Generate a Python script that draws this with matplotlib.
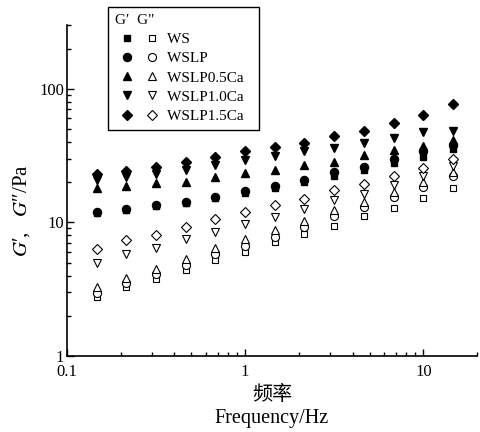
import matplotlib
matplotlib.use('Agg')
import matplotlib.pyplot as plt
from matplotlib.ticker import LogLocator, FuncFormatter, NullFormatter
from matplotlib.legend_handler import HandlerTuple

plt.rcParams['font.family'] = ['Liberation Serif', 'Noto Sans CJK SC', 'DejaVu Serif']
plt.rcParams['mathtext.fontset'] = 'stix'

# frequency (Hz)
freq = [0.147, 0.215, 0.316, 0.464, 0.681, 1.0, 1.47, 2.15, 3.16, 4.64, 6.81, 10.0, 14.7]

samples = ['WS', 'WSLP', 'WSLP0.5Ca', 'WSLP1.0Ca', 'WSLP1.5Ca']
markers = ['s', 'o', '^', 'v', 'D']

# storage modulus G' (Pa)
g1_ws = [11.7, 12.3, 13.2, 14.0, 15.2, 16.7, 18.2, 19.9, 22.3, 24.7, 27.8, 31.1, 35.3]
g1_wslp = [12.0, 12.6, 13.5, 14.3, 15.6, 17.2, 18.8, 20.6, 24.0, 26.2, 29.7, 34.0, 38.1]
g1_05ca = [18.0, 18.8, 19.7, 20.2, 21.8, 23.6, 24.7, 27.0, 28.5, 32.0, 34.9, 37.4, 41.5]
g1_10ca = [20.6, 21.8, 23.1, 24.7, 27.0, 29.4, 31.5, 34.0, 35.9, 39.6, 42.7, 47.1, 48.7]
g1_15ca = [23.1, 24.4, 26.2, 28.5, 31.1, 34.0, 36.6, 39.6, 44.7, 48.7, 55.3, 63.9, 77.2]

# loss modulus G" (Pa)
g2_ws = [2.78, 3.3, 3.75, 4.4, 5.24, 6.0, 7.1, 8.2, 9.4, 11.1, 12.9, 15.2, 18.0]
g2_wslp = [2.98, 3.5, 4.11, 4.8, 5.8, 6.6, 7.8, 9.2, 11.2, 13.1, 15.6, 18.3, 22.3]
g2_05ca = [3.27, 3.82, 4.48, 5.3, 6.4, 7.5, 8.8, 10.3, 12.3, 14.3, 17.0, 19.9, 24.0]
g2_10ca = [4.95, 5.8, 6.4, 7.5, 8.5, 9.7, 10.9, 12.6, 14.6, 16.3, 19.1, 22.3, 26.5]
g2_15ca = [6.3, 7.4, 8.06, 9.3, 10.6, 12.0, 13.5, 15.0, 17.5, 19.4, 22.3, 25.5, 29.7]

g1_all = [g1_ws, g1_wslp, g1_05ca, g1_10ca, g1_15ca]
g2_all = [g2_ws, g2_wslp, g2_05ca, g2_10ca, g2_15ca]

fig = plt.figure(figsize=(4.81, 4.32), dpi=100)
ax = fig.add_axes([0.139, 0.176, 0.853, 0.766])

handles = []
for name, m, g1, g2 in zip(samples, markers, g1_all, g2_all):
    ms = 5.0 if m in ('s', 'D') else 5.8
    h1, = ax.plot(freq, g1, linestyle='none', marker=m, ms=ms, color='black')
    h2, = ax.plot(freq, g2, linestyle='none', marker=m, ms=ms, markerfacecolor='white',
                  markeredgecolor='black', markeredgewidth=0.8)
    handles.append((h1, h2))

ax.set_xscale('log')
ax.set_yscale('log')
ax.set_xlim(0.1, 20)
ax.set_ylim(1, 300)

fmt = FuncFormatter(lambda v, p: f'{v:g}')
ax.xaxis.set_major_locator(LogLocator(base=10))
ax.yaxis.set_major_locator(LogLocator(base=10))
ax.xaxis.set_major_formatter(fmt)
ax.yaxis.set_major_formatter(fmt)
ax.xaxis.set_minor_formatter(NullFormatter())
ax.yaxis.set_minor_formatter(NullFormatter())

ax.spines['top'].set_visible(False)
ax.spines['right'].set_visible(False)
for s in ['left', 'bottom']:
    ax.spines[s].set_linewidth(1.2)
ax.tick_params(which='both', direction='in', labelsize=12, width=1)
ax.tick_params(which='major', length=5)
ax.tick_params(which='minor', length=3)
ax.tick_params(axis='y', pad=2)
ax.tick_params(axis='x', pad=6)

ax.set_ylabel('$G$\u2032,   $G$\u2033/Pa', fontsize=15)
ax.yaxis.set_label_coords(-0.085, 0.44)
ax.set_xlabel('频率\nFrequency/Hz', fontsize=14.5, linespacing=1.3, labelpad=4)

leg_labels = [s + '  ' for s in samples]
leg = ax.legend(handles, leg_labels, handler_map={tuple: HandlerTuple(ndivide=None, pad=0)},
                title='G\u2032  G"', loc='upper left', bbox_to_anchor=(0.1, 1.054),
                borderaxespad=0, fontsize=11, title_fontsize=11, handlelength=3.27,
                handletextpad=0.18, labelspacing=0.36, borderpad=0.45, fancybox=False,
                framealpha=1, edgecolor='black', alignment='left')
leg.get_frame().set_linewidth(1.0)

fig.savefig('out.png', dpi=100)
